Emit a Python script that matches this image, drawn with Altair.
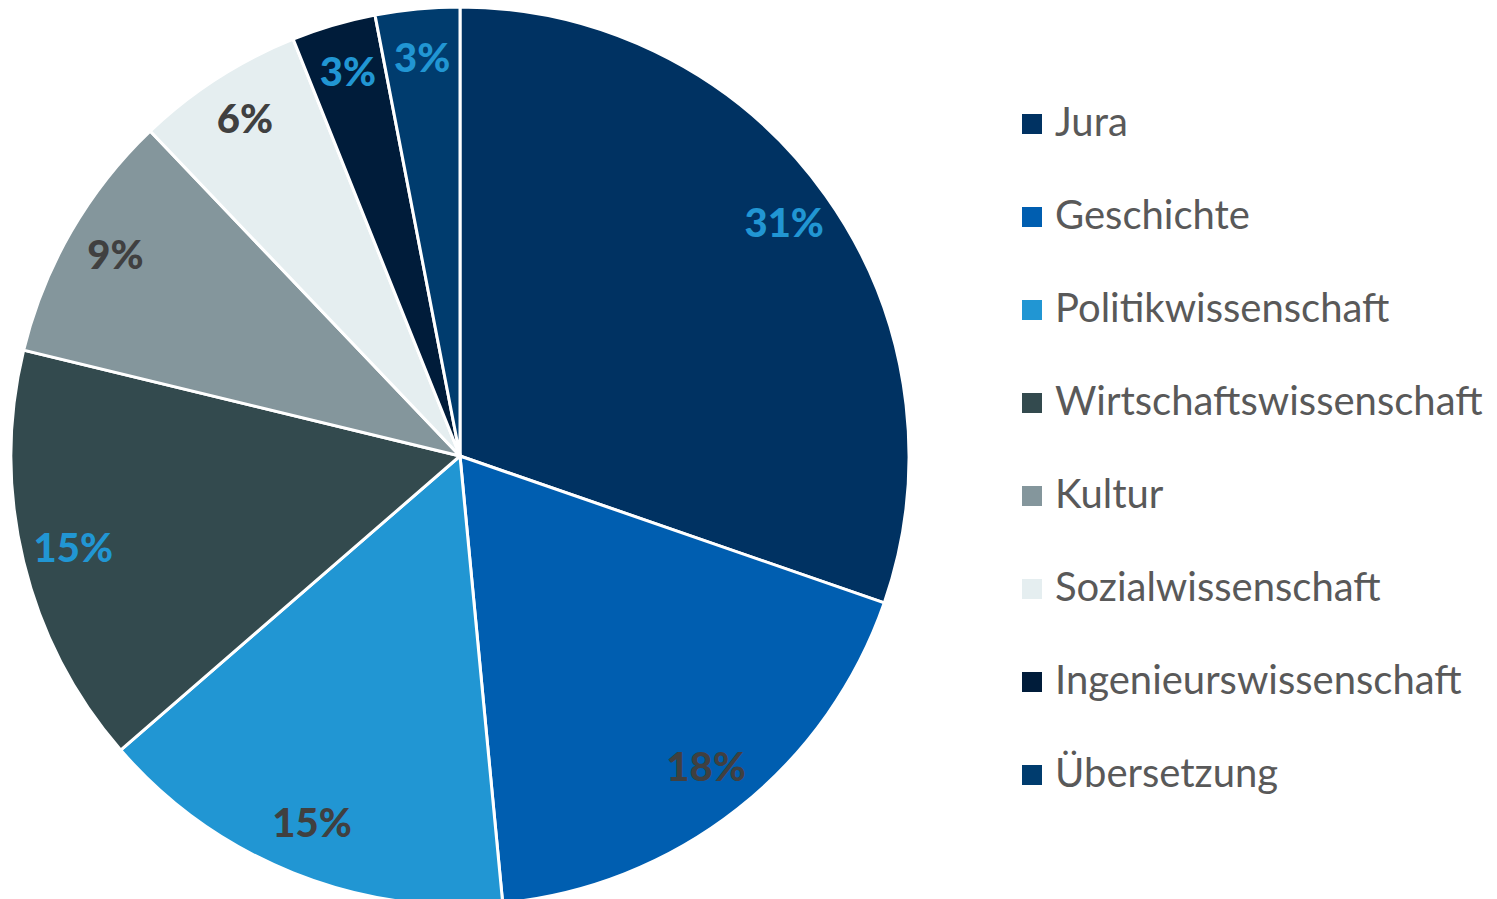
import altair as alt
import pandas as pd

categories = ["Jura", "Geschichte", "Politikwissenschaft", "Wirtschaftswissenschaft",
              "Kultur", "Sozialwissenschaft", "Ingenieurswissenschaft", "Übersetzung"]
counts = [10, 6, 5, 5, 3, 2, 1, 1]
pct_labels = ["31%", "18%", "15%", "15%", "9%", "6%", "3%", "3%"]
slice_colors = ["#003262", "#005eb0", "#2196d3", "#334a4e",
                "#84969c", "#e5eef0", "#001c3a", "#003c6e"]
label_colors = ["#2196d3", "#404040", "#404040", "#2196d3",
                "#404040", "#404040", "#2196d3", "#2196d3"]

df = pd.DataFrame({
    "Fach": categories,
    "n": counts,
    "label": pct_labels,
    "tcolor": label_colors,
    "idx": list(range(len(categories))),
})

FONT = "Lato"
cx, cy = 452, 448

base = alt.Chart(df).encode(
    theta=alt.Theta("n:Q", stack=True),
    order=alt.Order("idx:Q"),
)

arcs = base.mark_arc(outerRadius=449, stroke="white", strokeWidth=3).encode(
    x=alt.value(cx),
    y=alt.value(cy),
    color=alt.Color(
        "Fach:N",
        sort=categories,
        scale=alt.Scale(domain=categories, range=slice_colors),
        legend=alt.Legend(
            title=None,
            orient="none",
            legendX=1004,
            legendY=96,
            symbolType="square",
            symbolSize=400,
            symbolStrokeWidth=0,
            labelFontSize=40,
            labelFont=FONT,
            labelColor="#595959",
            labelOffset=3,
            rowPadding=53,
            padding=0,
            labelLimit=600,
        ),
    ),
)

texts = base.mark_text(radius=398, font=FONT, fontSize=40, fontWeight=900).encode(
    x=alt.value(cx),
    y=alt.value(cy),
    text="label:N",
    color=alt.Color("tcolor:N", scale=None, legend=None),
)

chart = (
    alt.layer(arcs, texts)
    .resolve_scale(color="independent")
    .properties(width=1481, height=900, autosize=alt.AutoSizeParams(type="none"), padding=0)
    .configure(background="white")
    .configure_view(strokeWidth=0, stroke=None)
)

chart.save("out.html", embed_options={"renderer": "svg", "actions": False})
